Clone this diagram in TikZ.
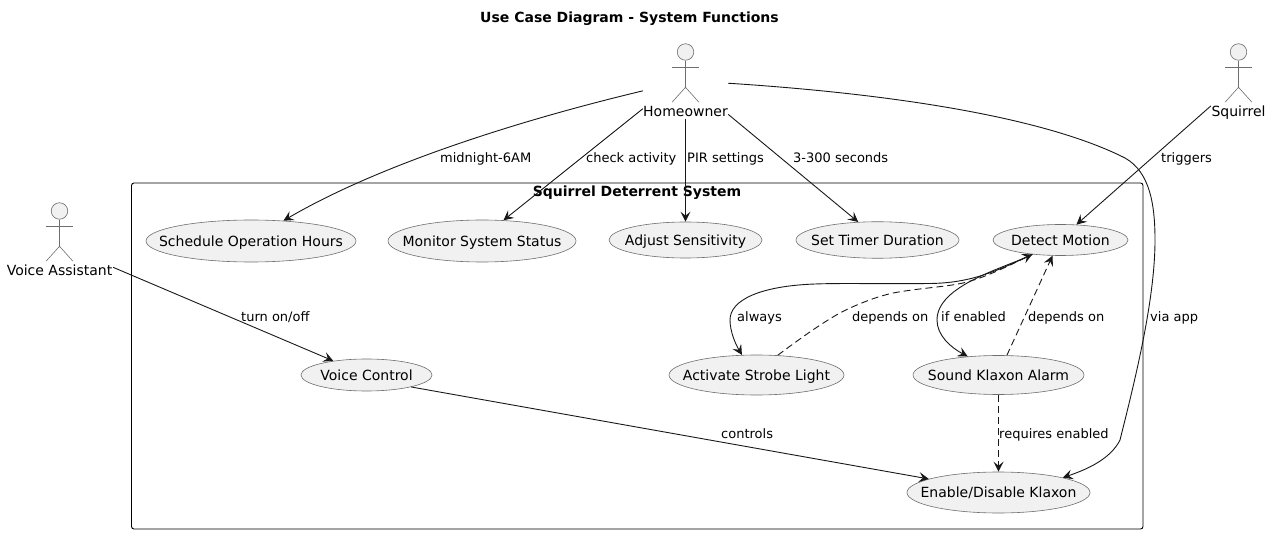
\documentclass[tikz,border=0pt]{standalone}
\usepackage{fontspec}
\setmainfont{DejaVu Sans}
\usetikzlibrary{arrows.meta,shapes.geometric}
\definecolor{ink}{HTML}{181818}
\definecolor{thin}{HTML}{6E6E6E}
\definecolor{usefill}{HTML}{F1F1F1}
\tikzset{
  usecase/.style={ellipse,draw=thin,line width=0.6pt,fill=usefill,inner sep=0pt,text=black,
    font=\fontsize{14}{16}\selectfont,text height=10.5pt,text depth=-0.5pt},
  actorbox/.style={rectangle,inner sep=0pt,minimum height=76pt},
  actorname/.style={inner sep=0pt,font=\fontsize{14}{16}\selectfont,text height=10.5pt,text depth=-0.5pt},
  stick/.style={draw=thin,line width=0.6pt},
  head/.style={circle,draw=thin,line width=0.6pt,fill=usefill,inner sep=0pt,minimum size=16.5pt},
  edge/.style={draw=ink,line width=0.9pt,-{Stealth[length=10pt,width=10pt,inset=4pt]}},
  dep/.style={edge,dash pattern=on 7pt off 4pt},
  lab/.style={inner sep=0pt,anchor=base west,font=\fontsize{13}{15}\selectfont},
  frametitle/.style={inner sep=0pt,anchor=base,font=\fontsize{14}{16}\selectfont\bfseries},
}
\newcommand{\uc}[1]{\makebox[0pt][c]{#1}}
\newcommand{\stickman}[3]{% name, x, head y
  \node[head] (#1head) at (#2,#3) {};
  \draw[stick] (#1head.south) -- ++(0,26.75) coordinate (#1hip);
  \draw[stick] ([xshift=-13.5pt,yshift=-6.75pt]#1head.south) -- ([xshift=13.5pt,yshift=-6.75pt]#1head.south);
  \draw[stick] ([xshift=-13.5pt,yshift=-15pt]#1hip) -- (#1hip) -- ([xshift=13.5pt,yshift=-15pt]#1hip);
}
\begin{document}
\begin{tikzpicture}[x=1pt,y=-1pt]
\useasboundingbox (0,0) rectangle (1271,534);
\node[frametitle] (maintitle) at (629.5,23) {Use Case Diagram - System Functions};
\draw[black,line width=0.9pt,rounded corners=2.5pt] (131.5,183) rectangle (1143,529);
\node[frametitle] (systemtitle) at (637,197) {Squirrel Deterrent System};

% use cases
\node[usecase,minimum width=210pt,minimum height=42pt] (schedule) at (251,241) {\uc{Schedule Operation Hours}};
\node[usecase,minimum width=188pt,minimum height=42pt] (monitor) at (482,241) {\uc{Monitor System Status}};
\node[usecase,minimum width=153pt,minimum height=36pt] (adjust) at (685.5,240) {\uc{Adjust Sensitivity}};
\node[usecase,minimum width=163pt,minimum height=36.5pt] (timer) at (877.5,240) {\uc{Set Timer Duration}};
\node[usecase,minimum width=135pt,minimum height=31pt] (detect) at (1060.5,240) {\uc{Detect Motion}};
\node[usecase,minimum width=175pt,minimum height=40pt] (strobe) at (756.5,375) {\uc{Activate Strobe Light}};
\node[usecase,minimum width=171pt,minimum height=39pt] (sound) at (998.5,375) {\uc{Sound Klaxon Alarm}};
\node[usecase,minimum width=183pt,minimum height=41pt] (enable) at (998.5,492.5) {\uc{Enable/Disable Klaxon}};
\node[usecase,minimum width=131pt,minimum height=32pt] (voice) at (366.5,375) {\uc{Voice Control}};

% actors
\node[actorbox,minimum width=85pt] (homeowner) at (685.5,81) {};
\node[actorname] (homeownername) at (685.5,111) {Homeowner};
\stickman{ho}{685.5}{52}
\node[actorbox,minimum width=55pt] (squirrel) at (1238.5,81) {};
\node[actorname] (squirrelname) at (1238.5,111) {Squirrel};
\stickman{sq}{1238.5}{52}
\node[actorbox,minimum width=107pt] (assistant) at (59.5,240) {};
\node[actorname] (assistantname) at (59.5,270) {Voice Assistant};
\stickman{va}{59.5}{211}

% connectors
\draw[edge] (homeowner.193) .. controls (500,125) and (370,170) .. (schedule.32);
\draw[edge] (homeowner.213) -- (monitor.44);
\draw[edge] (homeowner.south) -- (adjust.north);
\draw[edge] (homeowner.-38) -- (timer.137);
\draw[edge] (homeowner.-3) .. controls (880,93) and (1040,115) .. (1125,158)
   .. controls (1150,172) and (1155,205) .. (1155,240)
   .. controls (1155,300) and (1135,380) .. (1120,440)
   .. controls (1110,460) and (1085,470) .. (enable.13);
\draw[edge] (squirrel.222) -- (detect.44);
\draw[edge] (assistant.-27.6) -- (voice.157);
\draw[edge] (voice.-15.4) -- (enable.169);
\draw[edge] (detect.207) .. controls (995,272) and (970,283) .. (930,283.5)
   .. controls (880,284) and (840,283) .. (815,284)
   .. controls (760,286) and (730,300) .. (730,320)
   .. controls (730,332) and (736,345) .. (strobe.126);
\draw[edge] (detect.207) .. controls (1005,268) and (937,285) .. (937,320)
   .. controls (937,335) and (950,347) .. (sound.149);
\draw[dep] (strobe.43) .. controls (805,335) and (830,317) .. (850,308)
   .. controls (868,300) and (880,296) .. (893,293)
   .. controls (920,288) and (945,287) .. (963,283)
   .. controls (985,278) and (1010,265) .. (detect.207);
\draw[dep] (sound.67) -- (detect.243);
\draw[dep] (sound.south) -- (enable.north);

% connector labels
\node[lab] (l1) at (440,162.7) {midnight-6AM};
\node[lab] (l2) at (586,162.7) {check activity};
\node[lab] (l3) at (687,162.7) {PIR settings};
\node[lab] (l4) at (793,162.7) {3-300 seconds};
\node[lab] (l5) at (1161,162.7) {triggers};
\node[lab] (l6) at (241,321.7) {turn on/off};
\node[lab] (l7) at (737,321.7) {always};
\node[lab] (l8) at (852,321.7) {depends on};
\node[lab] (l9) at (941,321.7) {if enabled};
\node[lab] (l10) at (1028,321.7) {depends on};
\node[lab] (l11) at (1150,321.7) {via app};
\node[lab] (l12) at (721,438.7) {controls};
\node[lab] (l13) at (999,438.7) {requires enabled};
\end{tikzpicture}
\end{document}
